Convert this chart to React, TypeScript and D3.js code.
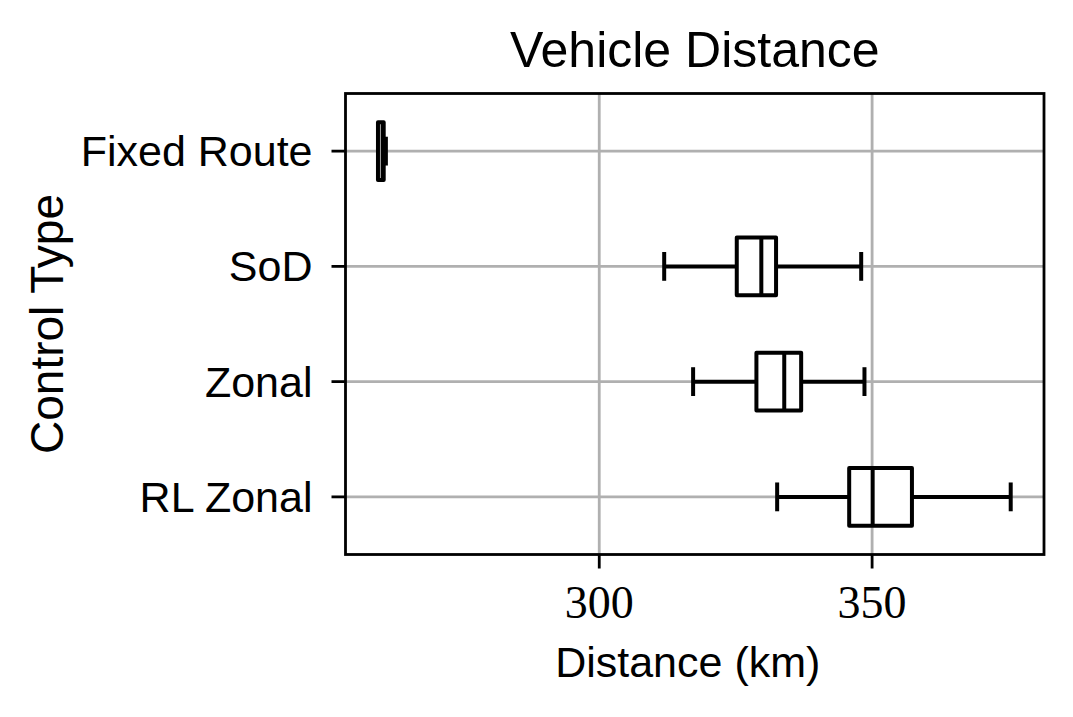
import React, { useEffect, useRef } from 'react';
import * as d3 from 'd3';

// Box stats (km)
const categories = ['Fixed Route', 'SoD', 'Zonal', 'RL Zonal'];
const whiskerLow = [259.45, 311.9, 317.2, 332.6];
const q1 = [259.45, 325.2, 328.8, 345.8];
const median = [260.3, 329.7, 333.9, 350.1];
const q3 = [260.5, 332.4, 337.0, 357.3];
const whiskerHigh = [260.9, 348.0, 348.6, 375.4];
const xTicks = [300, 350];

const W = 1073;
const H = 717;

export default function App() {
  const svgRef = useRef<SVGSVGElement>(null);

  useEffect(() => {
    const svg = d3.select(svgRef.current);
    svg.selectAll('*').remove();

    const margin = { top: 93.5, right: 29, bottom: 162.5, left: 345.5 };
    const innerW = W - margin.left - margin.right;
    const innerH = H - margin.top - margin.bottom;

    const x = d3.scaleLinear().domain([253.5, 381.5]).range([0, innerW]);
    const y = d3.scaleBand().domain(categories).range([0, innerH]).padding(0);
    const bw = y.bandwidth();
    const cy = (c: string) => (y(c) as number) + bw / 2;

    const sans = '"Liberation Sans", Arial, sans-serif';
    const serif = '"Liberation Serif", "DejaVu Serif", serif';
    const fs = 43;
    const gridColor = '#b0b0b0';

    const g = svg.append('g').attr('transform', `translate(${margin.left},${margin.top})`);

    // grid
    g.selectAll('.vgrid')
      .data(xTicks)
      .enter()
      .append('line')
      .attr('x1', d => x(d)).attr('x2', d => x(d))
      .attr('y1', 0).attr('y2', innerH)
      .attr('stroke', gridColor).attr('stroke-width', 2.8);
    g.selectAll('.hgrid')
      .data(categories)
      .enter()
      .append('line')
      .attr('x1', 0).attr('x2', innerW)
      .attr('y1', d => cy(d)).attr('y2', d => cy(d))
      .attr('stroke', gridColor).attr('stroke-width', 2.8);

    // boxes
    const rows = categories.map((c, i) => ({
      c, lo: whiskerLow[i], q1: q1[i], med: median[i], q3: q3[i], hi: whiskerHigh[i],
    }));
    const boxH = bw * 0.5;
    const capH = bw * 0.25;
    const lw = 4;

    rows.forEach(r => {
      const yc = cy(r.c);
      const bg = g.append('g').attr('stroke', '#000').attr('stroke-width', lw).attr('fill', 'none');
      bg.append('line').attr('x1', x(r.lo)).attr('x2', x(r.q1)).attr('y1', yc).attr('y2', yc);
      bg.append('line').attr('x1', x(r.q3)).attr('x2', x(r.hi)).attr('y1', yc).attr('y2', yc);
      bg.append('line').attr('x1', x(r.lo)).attr('x2', x(r.lo)).attr('y1', yc - capH / 2).attr('y2', yc + capH / 2);
      bg.append('line').attr('x1', x(r.hi)).attr('x2', x(r.hi)).attr('y1', yc - capH / 2).attr('y2', yc + capH / 2);
      bg.append('rect')
        .attr('x', x(r.q1)).attr('width', x(r.q3) - x(r.q1))
        .attr('y', yc - boxH / 2).attr('height', boxH)
        .attr('fill', '#fff').attr('stroke-linejoin', 'round');
      bg.append('line').attr('x1', x(r.med)).attr('x2', x(r.med)).attr('y1', yc - boxH / 2).attr('y2', yc + boxH / 2);
    });

    // frame
    g.append('rect')
      .attr('x', 0).attr('y', 0).attr('width', innerW).attr('height', innerH)
      .attr('fill', 'none').attr('stroke', '#000').attr('stroke-width', 2.8);

    // x ticks
    const xt = g.append('g').attr('transform', `translate(0,${innerH})`);
    xTicks.forEach(t => {
      xt.append('line').attr('x1', x(t)).attr('x2', x(t)).attr('y1', 0).attr('y2', 14)
        .attr('stroke', '#000').attr('stroke-width', 2.8);
      xt.append('text').attr('x', x(t)).attr('y', 63)
        .attr('text-anchor', 'middle').attr('font-family', serif).attr('font-size', 46)
        .text(t);
    });

    // y ticks
    categories.forEach(c => {
      g.append('line').attr('x1', -14).attr('x2', 0).attr('y1', cy(c)).attr('y2', cy(c))
        .attr('stroke', '#000').attr('stroke-width', 2.8);
      g.append('text').attr('x', -33).attr('y', cy(c)).attr('dy', '0.35em')
        .attr('text-anchor', 'end').attr('font-family', sans).attr('font-size', fs)
        .text(c);
    });

    // title & labels
    svg.append('text').attr('x', margin.left + innerW / 2).attr('y', 67)
      .attr('text-anchor', 'middle').attr('font-family', sans).attr('font-size', 50)
      .text('Vehicle Distance');
    svg.append('text').attr('x', margin.left + innerW / 2 - 7).attr('y', 677)
      .attr('text-anchor', 'middle').attr('font-family', sans).attr('font-size', fs)
      .text('Distance (km)');
    svg.append('text')
      .attr('transform', `translate(63,${margin.top + innerH / 2}) rotate(-90)`)
      .attr('text-anchor', 'middle').attr('font-family', sans).attr('font-size', 46)
      .text('Control Type');
  }, []);

  return (
    <svg
      ref={svgRef}
      width={W}
      height={H}
      style={{ position: 'absolute', left: 0, top: 0, background: '#fff' }}
    />
  );
}
